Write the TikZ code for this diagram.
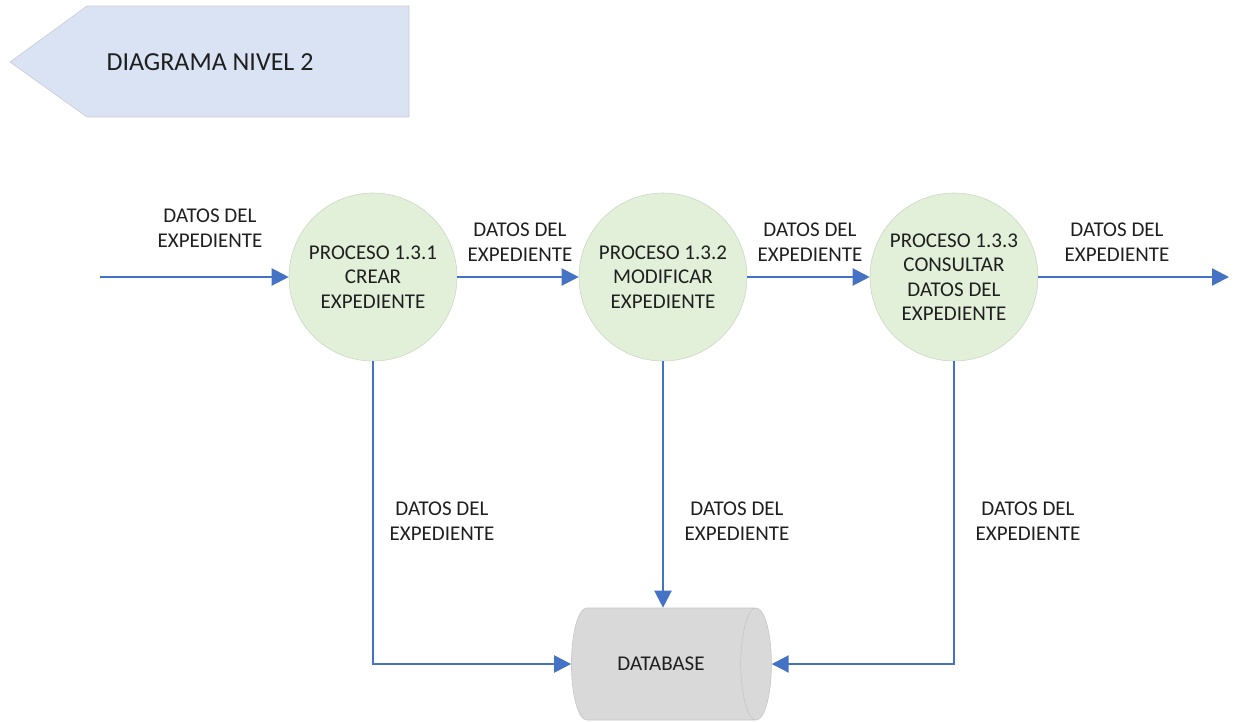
\documentclass[tikz,border=0pt]{standalone}
\usepackage{fontspec}
\setmainfont{Carlito}
\usetikzlibrary{arrows.meta,shapes.geometric}
\definecolor{flowblue}{HTML}{4472C4}
\definecolor{procfill}{HTML}{E2F0D9}
\definecolor{procline}{HTML}{CBD8C2}
\definecolor{titlefill}{HTML}{DAE3F3}
\definecolor{titleline}{HTML}{C9CCD3}
\definecolor{dbfill}{HTML}{D9D9D9}
\definecolor{dbline}{HTML}{C6C6C6}
\definecolor{ink}{HTML}{1F1F1F}
\tikzset{
  process/.style={circle, minimum size=168pt, inner sep=0pt, align=center,
    fill=procfill, draw=procline, line width=0.6pt, text=ink,
    font=\fontsize{21}{24.5}\selectfont},
  flowlabel/.style={align=center, text=ink, inner sep=0pt,
    font=\fontsize{21}{24.5}\selectfont},
  flow/.style={draw=flowblue, line width=2.2pt,
    -{Triangle[length=17pt,width=17pt]}},
  store/.style={cylinder, shape aspect=1.5, minimum width=112pt, minimum height=200pt,
    fill=dbfill, draw=dbline, line width=0.6pt, text=ink,
    font=\fontsize{21}{24.5}\selectfont},
}
\begin{document}
\begin{tikzpicture}[x=1pt,y=-1pt]
\useasboundingbox (0,0) rectangle (1239,721);

% title tag
\draw[fill=titlefill, draw=titleline, line width=0.6pt]
  (409,6) -- (87,6) -- (10,62) -- (87,117) -- (409,117) -- cycle;
\node[text=ink, font=\fontsize{26}{30}\selectfont] (title) at (210,62) {DIAGRAMA NIVEL 2};

% processes
\node[process] (p1) at (373,277) {PROCESO 1.3.1\\CREAR\\EXPEDIENTE};
\node[process] (p2) at (663,277) {PROCESO 1.3.2\\MODIFICAR\\EXPEDIENTE};
\node[process] (p3) at (954,277) {PROCESO 1.3.3\\CONSULTAR\\DATOS DEL\\EXPEDIENTE};

% data store
\node[store] (db) at (661,664) {DATABASE};

% free ends
\coordinate (src) at (100,277);
\coordinate (dst) at (1229,277);

% flows
\draw[flow] (src) -- (p1);
\draw[flow] (p1) -- (p2);
\draw[flow] (p2) -- (p3);
\draw[flow] (p3) -- (dst);
\draw[flow] (p1.south) |- (db.west);
\draw[flow] (p2.south) -- (p2.south |- db.north);
\draw[flow] (p3.south) |- (db.east);

% flow labels
\node[flowlabel] (l0) at (210,228) {DATOS DEL\\EXPEDIENTE};
\node[flowlabel] (l1) at (520,242) {DATOS DEL\\EXPEDIENTE};
\node[flowlabel] (l2) at (810,242) {DATOS DEL\\EXPEDIENTE};
\node[flowlabel] (l3) at (1117,242) {DATOS DEL\\EXPEDIENTE};
\node[flowlabel] (l4) at (442,521) {DATOS DEL\\EXPEDIENTE};
\node[flowlabel] (l5) at (737,521) {DATOS DEL\\EXPEDIENTE};
\node[flowlabel] (l6) at (1028,521) {DATOS DEL\\EXPEDIENTE};
\end{tikzpicture}
\end{document}
